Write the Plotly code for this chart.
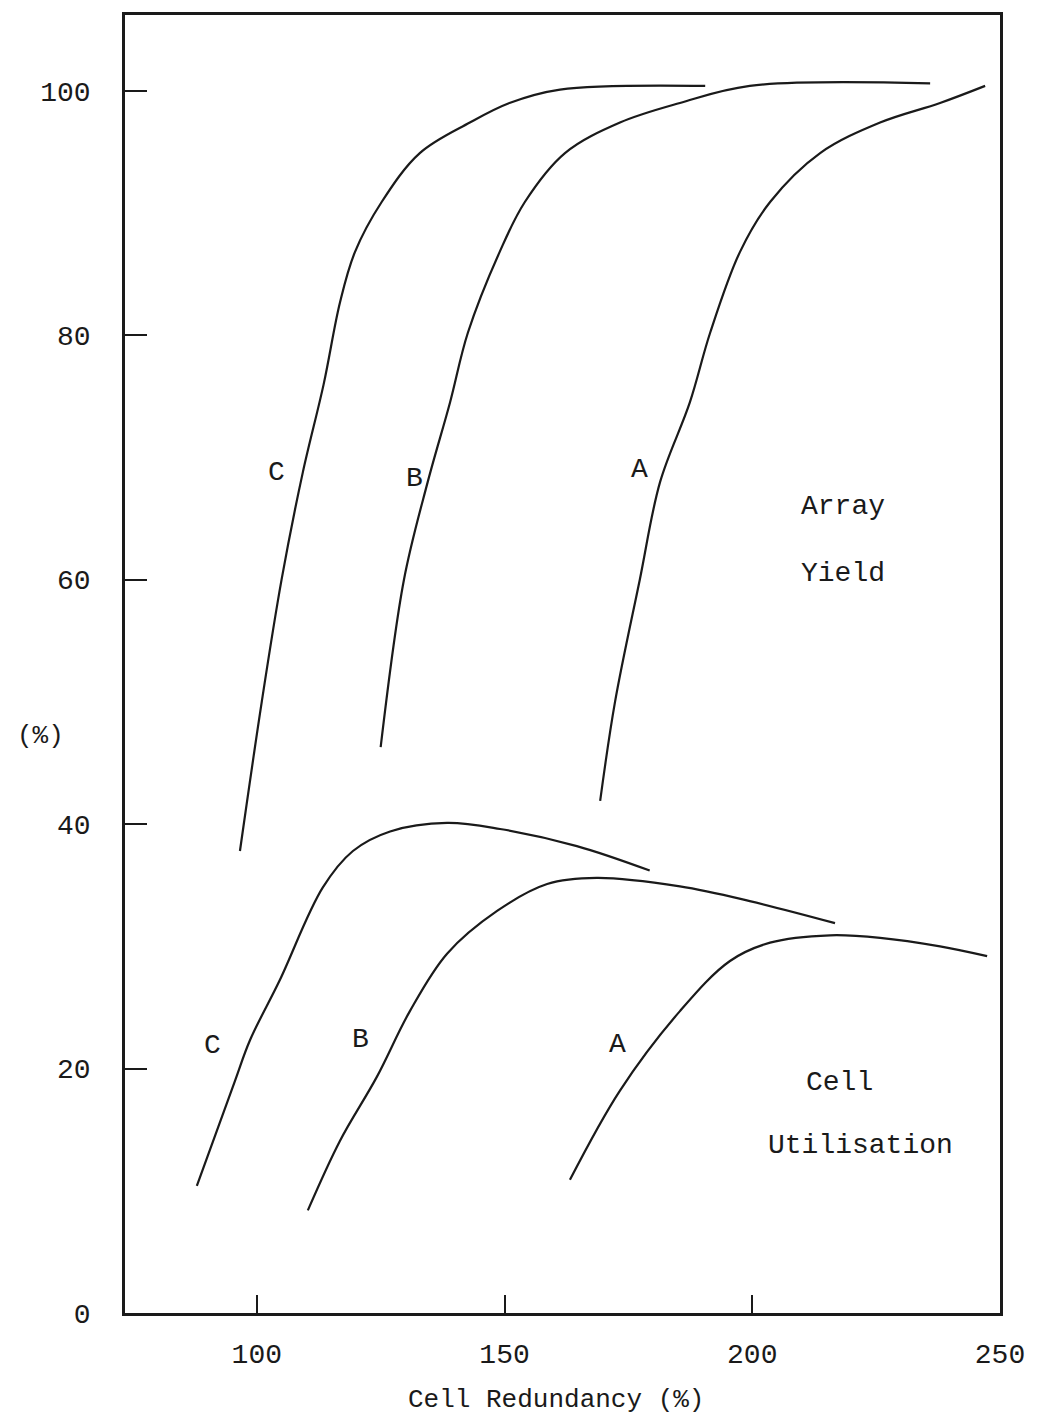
import plotly.graph_objects as go

# Array Yield curves
ay_a_x = [169.3, 172.3, 177.3, 181.4, 187.4, 191.5, 197.5, 203.6, 213.7, 225.8, 237.9, 247.0]
ay_a_y = [41.9, 50.0, 60.0, 68.0, 74.5, 80.2, 86.8, 90.9, 94.9, 97.4, 99.0, 100.4]
ay_b_x = [125.0, 129.7, 134.5, 139.0, 142.6, 149.0, 154.1, 162.2, 173.3, 185.4, 199.5, 235.9]
ay_b_y = [46.3, 60.0, 68.0, 74.5, 80.2, 86.8, 90.9, 94.9, 97.4, 99.0, 100.4, 100.6]
ay_c_x = [96.6, 101.0, 105.0, 109.3, 113.5, 116.8, 119.8, 125.2, 132.9, 143.0, 151.0, 161.2, 190.5]
ay_c_y = [37.8, 50.0, 60.0, 68.8, 76.0, 82.7, 86.8, 90.9, 94.9, 97.4, 99.0, 100.1, 100.4]

# Cell Utilisation curves
cu_a_x = [163.2, 173.3, 185.4, 195.5, 203.6, 215.7, 225.8, 237.9, 247.4]
cu_a_y = [10.9, 18.2, 24.7, 28.8, 30.3, 30.9, 30.7, 30.0, 29.2]
cu_b_x = [110.3, 116.8, 124.2, 130.9, 138.4, 148.5, 158.6, 168.6, 185.4, 199.5, 216.7]
cu_b_y = [8.4, 14.1, 19.3, 24.7, 29.4, 32.9, 35.1, 35.6, 34.9, 33.7, 31.9]
cu_c_x = [87.9, 95.6, 98.6, 104.6, 113.3, 119.4, 126.9, 138.4, 149.1, 164.6, 179.3]
cu_c_y = [10.4, 19.0, 22.3, 27.2, 34.8, 37.8, 39.4, 40.1, 39.6, 38.2, 36.2]

x_ticks = [100, 150, 200, 250]
y_ticks = [0, 20, 40, 60, 80, 100]

curve_labels = [
    ("C", 104.0, 68.8), ("B", 131.9, 68.3), ("A", 177.3, 69.0),
    ("C", 91.1, 21.9), ("B", 121.0, 22.4), ("A", 172.7, 22.0),
]
block_labels = [
    ("Array", 218.3, 66.0), ("Yield", 218.3, 60.5),
    ("Cell", 217.7, 18.9), ("Utilisation", 221.8, 13.7),
]

FONT = "Liberation Mono"
INK = "#1a1a1a"

fig = go.Figure()
for xs, ys in [(ay_a_x, ay_a_y), (ay_b_x, ay_b_y), (ay_c_x, ay_c_y),
               (cu_a_x, cu_a_y), (cu_b_x, cu_b_y), (cu_c_x, cu_c_y)]:
    fig.add_trace(go.Scatter(x=xs, y=ys, mode="lines",
                             line=dict(color=INK, width=2.2, shape="spline", smoothing=1.0),
                             showlegend=False, hoverinfo="skip"))

for t, x, y in curve_labels + block_labels:
    fig.add_annotation(x=x, y=y, text=t, showarrow=False,
                       xanchor="center", yanchor="middle",
                       font=dict(family=FONT, size=28, color=INK))

fig.add_annotation(xref="paper", yref="paper", x=(40 - 125) / 875, y=(1313 - 735) / 1301,
                   text="(%)", showarrow=False, xanchor="center", yanchor="middle",
                   font=dict(family=FONT, size=26, color=INK))
fig.add_annotation(xref="paper", yref="paper", x=(556 - 125) / 875, y=-(1400 - 1313) / 1301,
                   text="Cell Redundancy (%)", showarrow=False,
                   xanchor="center", yanchor="middle",
                   font=dict(family=FONT, size=26, color=INK))

fig.update_layout(
    width=1045, height=1421,
    margin=dict(l=125, r=45, t=12, b=108),
    paper_bgcolor="white", plot_bgcolor="white",
    font=dict(family=FONT, size=28, color=INK),
)
fig.update_xaxes(range=[73.4, 250], tickvals=x_ticks, ticktext=[str(v) for v in x_ticks],
                 ticks="inside", ticklen=18, tickwidth=2, tickcolor=INK,
                 showline=True, linecolor=INK, linewidth=2.5, mirror=True,
                 showgrid=False, zeroline=False, ticklabelstandoff=14,
                 tickfont=dict(family=FONT, size=28, color=INK))
fig.update_yaxes(range=[0, 106.2], tickvals=y_ticks, ticktext=[str(v) for v in y_ticks],
                 ticks="inside", ticklen=22, tickwidth=2, tickcolor=INK,
                 showline=True, linecolor=INK, linewidth=2.5, mirror=True,
                 showgrid=False, zeroline=False, ticklabelstandoff=26,
                 tickfont=dict(family=FONT, size=28, color=INK))

fig.write_html("out.html")
